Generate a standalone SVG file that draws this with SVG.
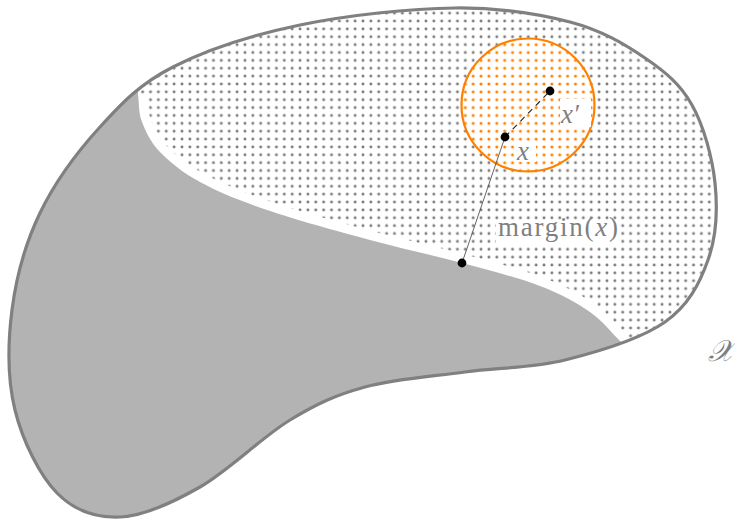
<svg xmlns="http://www.w3.org/2000/svg" width="735" height="520" viewBox="0 0 735 520">
  <style>
    .lbl { font-family: "Liberation Serif", "DejaVu Serif", serif; fill: #7f7f7f; }
    .it { font-style: italic; }
    .pt { fill: #000; }
  </style>
  <defs>
    <path id="blobPath" d="M455,8 C500,7.5 538.3,13.7 570,22 C601.7,30.3 624.7,44.2 645,58 C665.3,71.8 680.3,84.2 692,105 C703.7,125.8 712.3,157.2 715,183 C717.7,208.8 716.3,236.8 708,260 C699.7,283.2 688.8,305.3 665,322 C641.2,338.7 598.3,351.7 565,360 C531.7,368.3 498.3,367.5 465,372 C431.7,376.5 394.2,379 365,387 C335.8,395 317.5,403.3 290,420 C262.5,436.7 228.3,470.8 200,487 C171.7,503.2 143.8,516 120,517 C96.2,518 74.5,510.8 57,493 C39.5,475.2 22.5,440.5 15,410 C7.5,379.5 7.8,342.8 12,310 C16.2,277.2 25.3,243.5 40,213 C54.7,182.5 77.8,151.3 100,127 C122.2,102.7 139.7,84 173,67 C206.3,50 253,34.8 300,25 C347,15.2 410,8.5 455,8 Z"/>
    <path id="innerPath" d="M138,95 C139.3,104 138.3,112.5 142,122 C145.7,131.5 150.3,142 160,152 C169.7,162 182.2,172.3 200,182 C217.8,191.7 238.7,200.3 267,210 C295.3,219.7 337.5,231.2 370,240 C402.5,248.8 433.7,255.3 462,263 C490.3,270.7 518.7,277.8 540,286 C561.3,294.2 576.3,302.5 590,312 C603.7,321.5 611.3,332.7 622,343"/>
    <clipPath id="blobClip"><use href="#blobPath"/></clipPath>
    <clipPath id="grayClip">
      <path d="M135,40 L138,95 C139.3,104 138.3,112.5 142,122 C145.7,131.5 150.3,142 160,152 C169.7,162 182.2,172.3 200,182 C217.8,191.7 238.7,200.3 267,210 C295.3,219.7 337.5,231.2 370,240 C402.5,248.8 433.7,255.3 462,263 C490.3,270.7 518.7,277.8 540,286 C561.3,294.2 576.3,302.5 590,312 C603.7,321.5 611.3,332.7 622,343 L690,410 L690,540 L-10,540 L-10,40 Z"/>
    </clipPath>
    <pattern id="grayDots" patternUnits="userSpaceOnUse" x="437.77" y="80.07" width="7.87" height="7.87">
      <circle cx="3.935" cy="3.935" r="1.45" fill="#7a7a7a"/>
    </pattern>
    <pattern id="orangeDots" patternUnits="userSpaceOnUse" x="437.77" y="80.07" width="7.87" height="7.87">
      <circle cx="3.935" cy="3.935" r="1.55" fill="#ff8000"/>
    </pattern>
  </defs>

  <g id="space-X">
    <use href="#blobPath" fill="#fff"/>
    <use href="#blobPath" fill="url(#grayDots)"/>
  </g>

  <g id="region-gray">
    <g clip-path="url(#blobClip)">
      <use href="#innerPath" fill="none" stroke="#fff" stroke-width="18"/>
    </g>
    <use href="#blobPath" fill="#b3b3b3" clip-path="url(#grayClip)"/>
  </g>

  <g id="ball">
    <circle cx="528" cy="105" r="66.5" fill="#fff"/>
    <circle cx="528" cy="105" r="66.5" fill="url(#orangeDots)" stroke="#ff8000" stroke-width="2.2"/>
  </g>

  <g id="label-boxes">
    <rect x="560" y="99" width="31" height="28" fill="#fff"/>
    <rect x="514" y="141" width="22" height="21" fill="#fff"/>
    <rect x="496" y="220" width="124" height="26" fill="#fff"/>
  </g>

  <g id="connectors">
    <line x1="505" y1="137" x2="462" y2="263" stroke="#555" stroke-width="0.9"/>
    <line x1="505" y1="137" x2="550" y2="91" stroke="#222" stroke-width="1.1" stroke-dasharray="6 5"/>
  </g>

  <g id="outline">
    <use href="#blobPath" fill="none" stroke="#808080" stroke-width="3.2"/>
  </g>

  <g id="point-x">
    <circle class="pt" cx="505" cy="137" r="4.4"/>
    <text class="lbl it" x="517" y="160" font-size="27">x</text>
  </g>
  <g id="point-xprime">
    <circle class="pt" cx="550" cy="91" r="4.4"/>
    <text class="lbl it" x="561" y="123" font-size="27">x′</text>
  </g>
  <g id="point-margin">
    <circle class="pt" cx="462" cy="263" r="4.4"/>
    <text class="lbl" x="498" y="236" font-size="27" textLength="120" lengthAdjust="spacing">margin(<tspan class="it">x</tspan>)</text>
  </g>
  <g id="label-X">
    <text class="lbl it" x="708" y="361" font-size="30">𝒳</text>
  </g>
</svg>
